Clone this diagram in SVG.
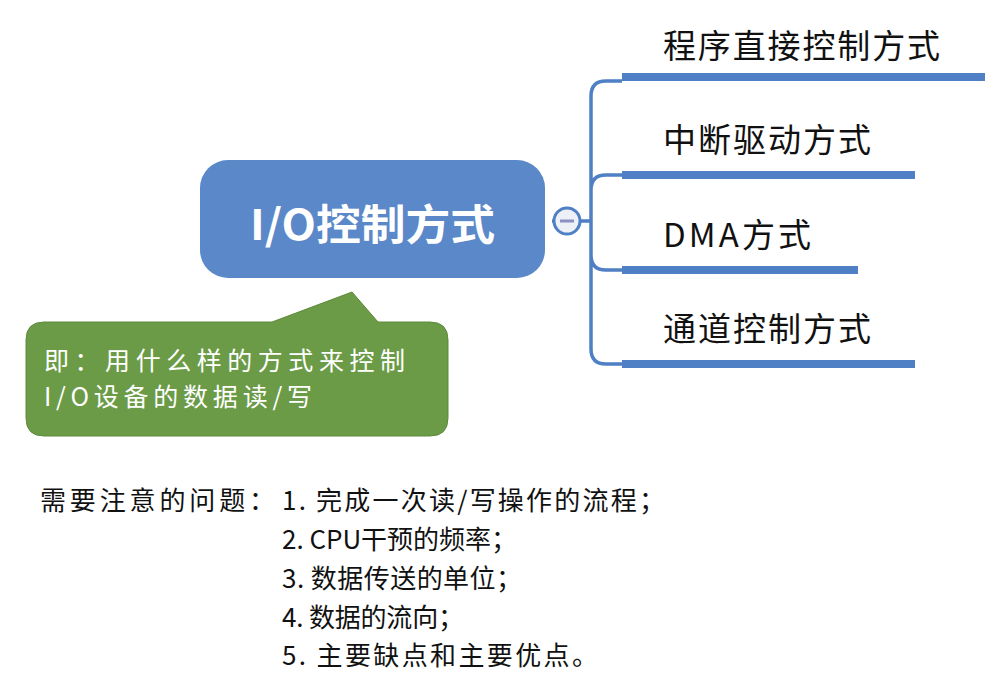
<svg xmlns="http://www.w3.org/2000/svg" width="1002" height="682" viewBox="0 0 1002 682">
<style>
.t{font-family:"Noto Sans CJK SC","Noto Sans",sans-serif;}
.lbl{font-size:33px;fill:#111;}
.bar{fill:#4f7fc4;}
.br{fill:none;stroke:#4f7fc4;stroke-width:3.5;}
.q{font-size:26px;fill:#111;}
</style>
<rect width="1002" height="682" fill="#fff"/>
<g id="connectors">
<path class="br" d="M552 221H591 M622 81H606Q591 81 591 96V349Q591 364 606 364H622 M591 190Q591 175 606 175H622 M591 255Q591 270 606 270H622"/>
<circle cx="567" cy="221" r="13" fill="#eef0f8" stroke="#4f7fc4" stroke-width="3"/>
<line x1="560" y1="221" x2="574" y2="221" stroke="#8a90c0" stroke-width="3"/>
</g>
<g id="root">
<rect x="200" y="160" width="345" height="118" rx="28" fill="#5a88c8"/>
<text class="t" x="250" y="240" font-size="42" font-weight="bold" fill="#fff" textLength="245" lengthAdjust="spacingAndGlyphs">I/O控制方式</text>
</g>
<g id="n1"><text class="t lbl" x="663" y="58" textLength="277">程序直接控制方式</text><rect class="bar" x="622" y="73" width="363" height="8"/></g>
<g id="n2"><text class="t lbl" x="663" y="152" textLength="208">中断驱动方式</text><rect class="bar" x="622" y="171" width="293" height="8"/></g>
<g id="n3"><text class="t lbl" x="663" y="247" textLength="148">DMA方式</text><rect class="bar" x="622" y="266" width="236" height="8"/></g>
<g id="n4"><text class="t lbl" x="663" y="341" textLength="208">通道控制方式</text><rect class="bar" x="622" y="360" width="293" height="8"/></g>
<g id="callout">
<path d="M44 322H272L352 292L378 322H430Q448 322 448 340V418Q448 436 430 436H44Q26 436 26 418V340Q26 322 44 322Z" fill="#6b9b47" stroke="#5d8a3c" stroke-width="1"/>
<text class="t" x="44" y="370" font-size="25" fill="#fff" textLength="361">即：用什么样的方式来控制</text>
<text class="t" x="44" y="406" font-size="25" fill="#fff" textLength="268">I/O设备的数据读/写</text>
</g>
<g id="notes" class="t q">
<text x="40" y="510" textLength="235">需要注意的问题：</text>
<text x="282" y="510" textLength="383">1. 完成一次读/写操作的流程；</text>
<text x="282" y="549" textLength="235">2. CPU干预的频率；</text>
<text x="282" y="588" textLength="240">3. 数据传送的单位；</text>
<text x="282" y="627" textLength="182">4. 数据的流向；</text>
<text x="282" y="665" textLength="316">5. 主要缺点和主要优点。</text>
</g>
</svg>
